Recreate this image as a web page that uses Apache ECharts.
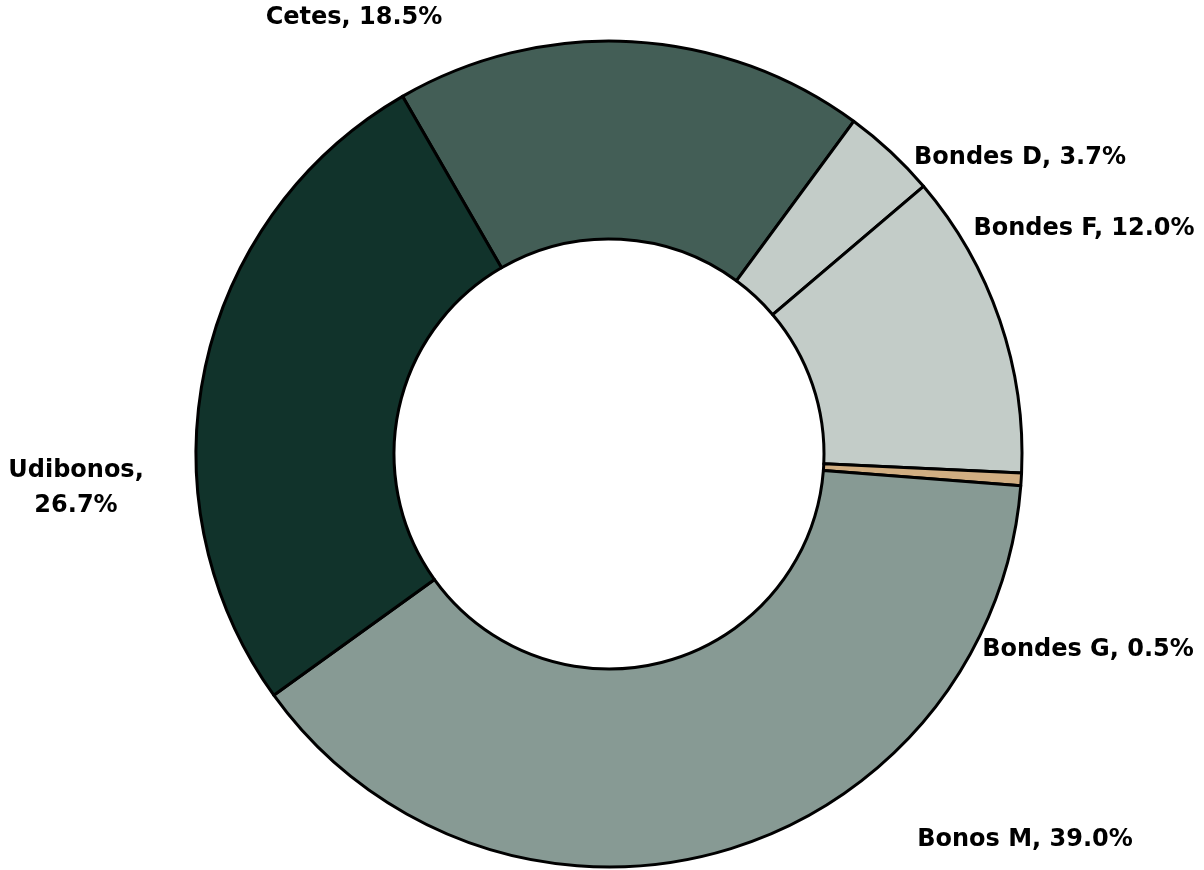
<!DOCTYPE html>
<html>
<head>
<meta charset="utf-8">
<script src="https://cdn.jsdelivr.net/npm/echarts@6/dist/echarts.min.js"></script>
<style>
  html, body { margin: 0; padding: 0; background: #fff; }
  #chart { width: 1204px; height: 870px; }
</style>
</head>
<body>
<div id="chart"></div>
<script>
// data
const names = ['Cetes', 'Bondes D', 'Bondes F', 'Bondes G', 'Bonos M', 'Udibonos']
const shares = [18.5, 3.7, 12.0, 0.5, 39.0, 26.7]
const sliceColors = ['#435e56', '#c3ccc8', '#c3ccc8', '#d1ae82', '#879a94', '#11332b']

// where Excel put each label (centre of text block)
const labelSpots = [
  [354, 18], [1020, 158], [1084, 229], [1088, 650], [1025, 840], [76, 488]
]

const chart = echarts.init(document.getElementById('chart'))

chart.setOption({
  animation: false,
  series: [
    {
      type: 'pie',
      center: [609, 454],
      radius: [215, 413],
      startAngle: 120,
      clockwise: true,
      itemStyle: {
        borderColor: '#000',
        borderWidth: 3
      },
      label: {
        show: true,
        position: 'outside',
        color: '#000',
        fontFamily: 'DejaVu Sans',
        fontWeight: 'bold',
        fontSize: 24,
        lineHeight: 35,
        align: 'center',
        overflow: 'none',
        formatter(p) {
          if (p.name === 'Udibonos') return p.name + ',\n' + p.value.toFixed(1) + '%'
          return p.name + ', ' + p.value.toFixed(1) + '%'
        }
      },
      labelLine: { show: false },
      labelLayout(params) {
        const spot = labelSpots[params.dataIndex]
        return {
          x: spot[0],
          y: spot[1],
          align: 'center',
          verticalAlign: 'middle'
        }
      },
      data: names.map((n, i) => ({
        name: n,
        value: shares[i],
        itemStyle: { color: sliceColors[i] }
      }))
    }
  ]
})
</script>
</body>
</html>
